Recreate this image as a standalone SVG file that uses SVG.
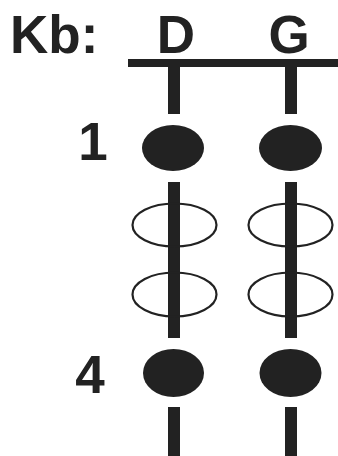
<svg xmlns="http://www.w3.org/2000/svg" width="338" height="456" viewBox="0 0 338 456">
<style>
.t{font-family:"Liberation Sans",Arial,sans-serif;font-weight:bold;font-size:53px;fill:#222}
.bar{fill:#222}
.dot{fill:#222}
.ring{fill:none;stroke:#222;stroke-width:2.2}
</style>
<rect width="338" height="456" fill="#fff"/>
<g id="title"><text class="t" x="10" y="53">Kb:</text></g>
<g id="labelD"><text class="t" x="176" y="53" text-anchor="middle">D</text></g>
<g id="labelG"><text class="t" x="289" y="53" text-anchor="middle">G</text></g>
<g id="label1"><text class="t" x="93" y="160" text-anchor="middle">1</text></g>
<g id="label4"><text class="t" x="90" y="393" text-anchor="middle">4</text></g>
<g id="connectors">
<rect class="bar" x="128" y="59" width="210" height="8"/>
<rect class="bar" x="168" y="66" width="12" height="48"/>
<rect class="bar" x="285" y="66" width="12" height="48"/>
<rect class="bar" x="168" y="182" width="12" height="156"/>
<rect class="bar" x="285" y="182" width="12" height="156"/>
<rect class="bar" x="168" y="407" width="12" height="49"/>
<rect class="bar" x="285" y="407" width="12" height="49"/>
</g>
<g id="D1"><ellipse class="dot" cx="173" cy="148" rx="31" ry="23"/></g>
<g id="G1"><ellipse class="dot" cx="290.5" cy="148" rx="31.5" ry="23"/></g>
<g id="D2"><ellipse class="ring" cx="174.5" cy="225" rx="42" ry="21.5"/></g>
<g id="G2"><ellipse class="ring" cx="290.5" cy="225" rx="42" ry="21.5"/></g>
<g id="D3"><ellipse class="ring" cx="174.5" cy="294.5" rx="42" ry="22"/></g>
<g id="G3"><ellipse class="ring" cx="290.5" cy="294.5" rx="42" ry="22"/></g>
<g id="D4"><ellipse class="dot" cx="173.5" cy="373" rx="30.5" ry="24"/></g>
<g id="G4"><ellipse class="dot" cx="290.5" cy="373" rx="31" ry="24"/></g>
</svg>
